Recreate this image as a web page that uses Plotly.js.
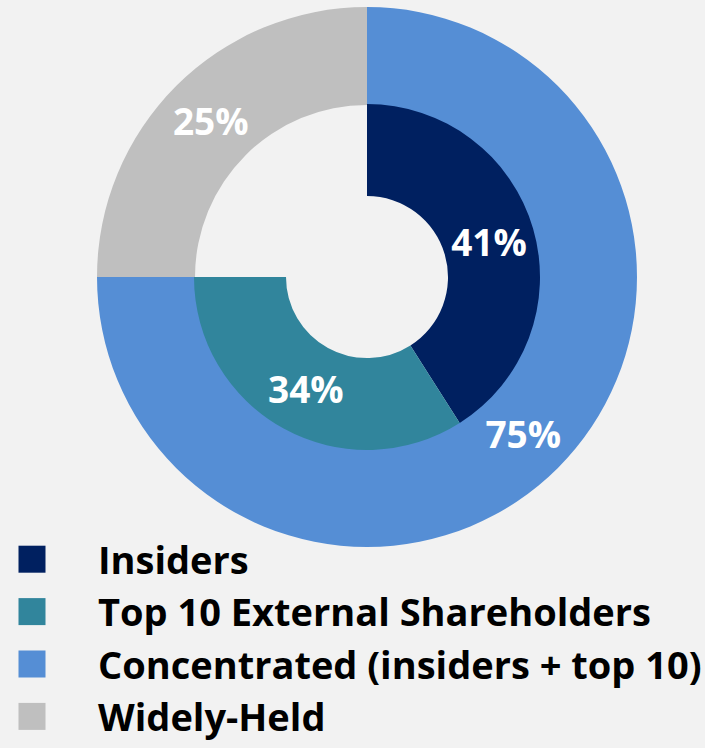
<!DOCTYPE html>
<html><head><meta charset="utf-8">
<script src="https://cdn.plot.ly/plotly-3.0.1.min.js"></script>
<style>html,body{margin:0;padding:0;background:#F2F2F2;}</style>
</head><body>
<div id="chart" style="width:705px;height:748px;"></div>
<script>
// ---- data ----
const innerLabels = ['Insiders', 'Top 10 External Shareholders', 'Widely-Held'];
const innerValues = [41, 34, 25];
const innerShown = [true, true, false];
const outerLabels = ['Concentrated (insiders + top 10)', 'Widely-Held'];
const outerValues = [75, 25];

// ---- styles ----
const innerColors = ['#002060', '#31859C', 'rgba(0,0,0,0)'];
const outerColors = ['#558ED5', '#BFBFBF'];

const pct = (vals, shown) => vals.map((v, i) => (shown && !shown[i]) ? '' : v + '%');

const textFont = {family: '"Open Sans", Lato, sans-serif', weight: 700, size: 37, color: '#FFFFFF'};

const outer = {
  type: 'pie', labels: outerLabels, values: outerValues,
  text: pct(outerValues), textinfo: 'text', textposition: 'inside',
  insidetextorientation: 'horizontal', insidetextfont: textFont,
  marker: {colors: outerColors, line: {width: 0}},
  hole: 172 / 270, sort: false, direction: 'clockwise', rotation: 0,
  domain: {x: [97 / 705, 637 / 705], y: [201 / 748, 741 / 748]},
  legendrank: 2, hoverinfo: 'label+percent'
};
const inner = {
  type: 'pie', labels: innerLabels, values: innerValues,
  text: pct(innerValues, innerShown), textinfo: 'text', textposition: 'inside',
  insidetextorientation: 'horizontal', insidetextfont: textFont,
  marker: {colors: innerColors, line: {width: 0}},
  hole: 81 / 173, sort: false, direction: 'clockwise', rotation: 0,
  domain: {x: [194 / 705, 540 / 705], y: [298 / 748, 644 / 748]},
  legendrank: 1, hoverinfo: 'label+percent'
};

const layout = {
  width: 705, height: 748,
  margin: {l: 0, r: 0, t: 0, b: 0},
  paper_bgcolor: '#F2F2F2', plot_bgcolor: '#F2F2F2',
  showlegend: true,
  legend: {
    xref: 'paper', yref: 'paper',
    x: 0, xanchor: 'left', y: 0, yanchor: 'bottom',
    bgcolor: 'rgba(0,0,0,0)', borderwidth: 0,
    itemwidth: 88, traceorder: 'normal',
    font: {family: '"Open Sans", Lato, sans-serif', weight: 700, size: 38, color: '#000000'}
  }
};

Plotly.newPlot('chart', [outer, inner], layout, {displayModeBar: false, staticPlot: true}).then(() => {
  document.querySelectorAll('.legend path.legendpie').forEach(p => {
    p.setAttribute('d', 'M13.5,13.5H-13.5V-13.5H13.5Z');
    p.setAttribute('transform', 'translate(32,0)');
  });
});
</script>
</body></html>
